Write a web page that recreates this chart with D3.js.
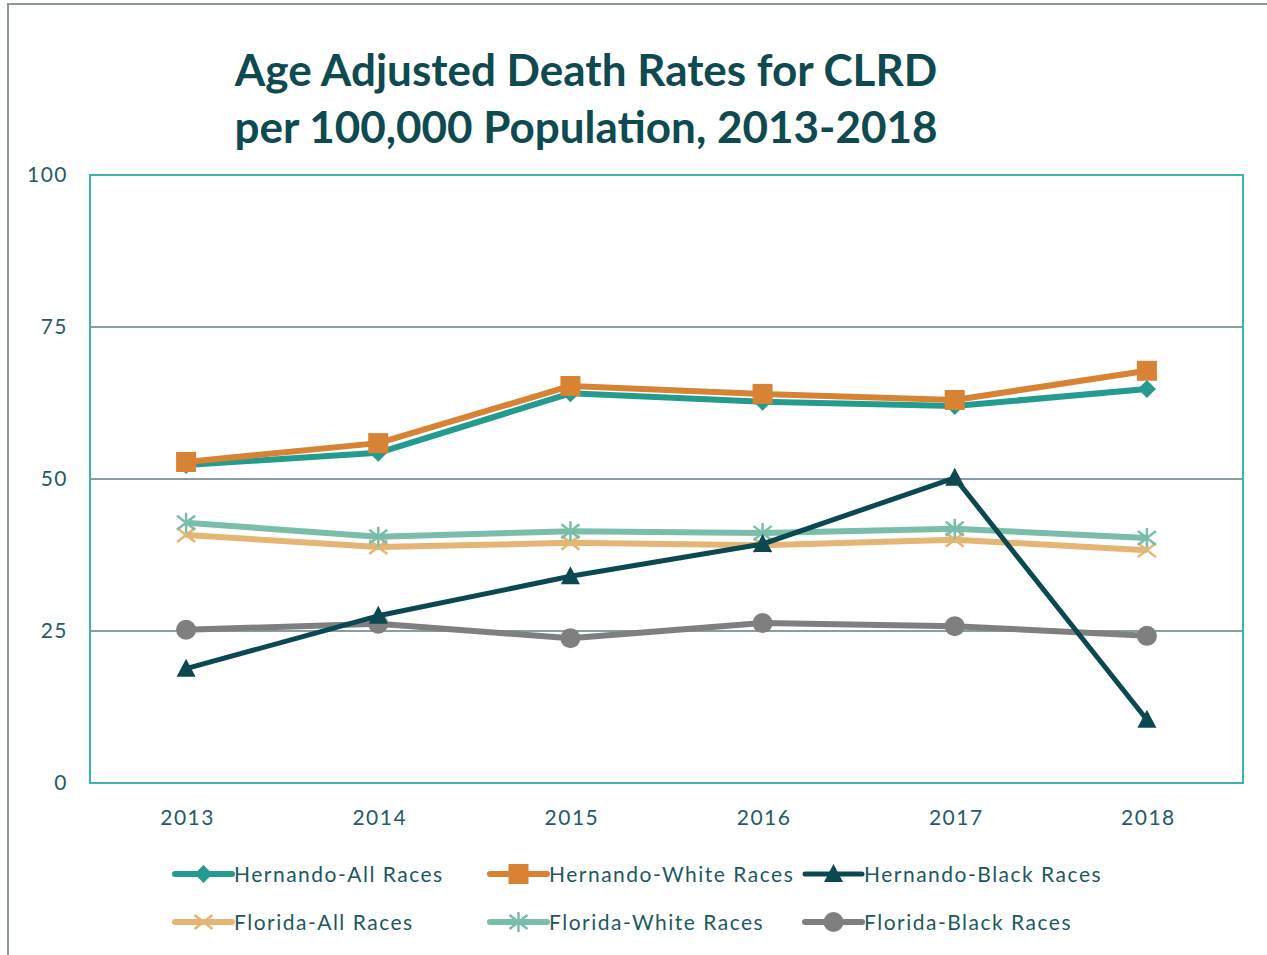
<!DOCTYPE html>
<html>
<head>
<meta charset="utf-8">
<script src="https://cdn.jsdelivr.net/npm/d3@7"></script>
<style>
  body { margin: 0; background: #fff; }
  svg text { font-family: Lato, "Open Sans", sans-serif; }
</style>
</head>
<body>
<div id="chart"></div>
<script>
// data
const years = ['2013', '2014', '2015', '2016', '2017', '2018'];
const hernandoAll = [52.3, 54.3, 64.1, 62.7, 62.0, 64.8];
const hernandoWhite = [52.8, 55.9, 65.3, 64.0, 63.0, 67.8];
const hernandoBlack = [18.8, 27.5, 34.0, 39.3, 50.2, 10.4];
const floridaAll = [40.8, 38.8, 39.5, 39.1, 40.0, 38.3];
const floridaWhite = [42.8, 40.5, 41.4, 41.1, 41.8, 40.3];
const floridaBlack = [25.2, 26.2, 23.8, 26.3, 25.8, 24.2];
const yTicks = [0, 25, 50, 75, 100];

const series = [
    { name: 'Hernando-All Races', values: hernandoAll, color: '#239c8f', marker: 'diamond', w: 6 },
    { name: 'Hernando-White Races', values: hernandoWhite, color: '#d88234', marker: 'square', w: 6 },
    { name: 'Hernando-Black Races', values: hernandoBlack, color: '#0b4850', marker: 'triangle', w: 5 },
    { name: 'Florida-All Races', values: floridaAll, color: '#e5b574', marker: 'x', w: 6 },
    { name: 'Florida-White Races', values: floridaWhite, color: '#79bdaa', marker: 'star', w: 6 },
    { name: 'Florida-Black Races', values: floridaBlack, color: '#7f7f7f', marker: 'circle', w: 6 }
];

const width = 1267, height = 955;
const plot = { left: 90, top: 175, right: 1243, bottom: 783 };

let svg = d3.select('#chart')
    .append('svg')
    .attr('width', width)
    .attr('height', height);

// outer frame
svg.append('rect')
    .attr('x', 8).attr('y', 4)
    .attr('width', 1280).attr('height', 980)
    .attr('fill', 'none')
    .attr('stroke', '#8c979b')
    .attr('stroke-width', 2);

// title
svg.append('text')
    .attr('x', 586).attr('y', 86)
    .attr('text-anchor', 'middle')
    .attr('font-size', 44).attr('font-weight', 'bold')
    .attr('fill', '#0e4a50')
    .text('Age Adjusted Death Rates for CLRD');
svg.append('text')
    .attr('x', 586).attr('y', 143)
    .attr('text-anchor', 'middle')
    .attr('font-size', 44).attr('font-weight', 'bold')
    .attr('fill', '#0e4a50')
    .text('per 100,000 Population, 2013-2018');

let x = d3.scalePoint()
    .domain(years)
    .range([plot.left, plot.right])
    .padding(0.5);

let y = d3.scaleLinear()
    .domain([0, 100])
    .range([plot.bottom, plot.top]);

// gridlines
svg.append('g')
    .selectAll('line')
    .data(yTicks.filter(function(t) { return t > 0 && t < 100; }))
    .enter()
    .append('line')
    .attr('x1', plot.left).attr('x2', plot.right)
    .attr('y1', function(d) { return y(d); })
    .attr('y2', function(d) { return y(d); })
    .attr('stroke', '#8a9da2')
    .attr('stroke-width', 2);

// plot border
svg.append('rect')
    .attr('x', plot.left).attr('y', plot.top)
    .attr('width', plot.right - plot.left)
    .attr('height', plot.bottom - plot.top)
    .attr('fill', 'none')
    .attr('stroke', '#3bb5a7')
    .attr('stroke-width', 2);

// y axis labels
let yAxis = svg.append('g')
    .attr('transform', 'translate(' + (plot.left - 22) + ',0)')
    .call(d3.axisLeft(y).tickValues(yTicks).tickSize(0).tickPadding(0));
yAxis.select('.domain').remove();
yAxis.selectAll('text')
    .attr('font-size', 21)
    .attr('letter-spacing', 1.5)
    .attr('fill', '#245c63')
    .attr('font-family', 'Lato, sans-serif');

// x axis labels
let xAxis = svg.append('g')
    .attr('transform', 'translate(1,' + (plot.bottom + 27) + ')')
    .call(d3.axisBottom(x).tickSize(0).tickPadding(0));
xAxis.select('.domain').remove();
xAxis.selectAll('text')
    .attr('font-size', 21)
    .attr('letter-spacing', 1.5)
    .attr('fill', '#245c63')
    .attr('font-family', 'Lato, sans-serif');

function drawMarker(g, type, color) {
    if (type === 'diamond') {
        g.append('path').attr('d', 'M0,-9L9,0L0,9L-9,0Z').attr('fill', color);
    } else if (type === 'square') {
        g.append('rect').attr('x', -10).attr('y', -10).attr('width', 20).attr('height', 20).attr('fill', color);
    } else if (type === 'triangle') {
        g.append('path').attr('d', 'M0,-10L9.5,8L-9.5,8Z').attr('fill', color);
    } else if (type === 'circle') {
        g.append('circle').attr('r', 10).attr('fill', color);
    } else if (type === 'x') {
        g.append('path').attr('d', 'M-9,-7L9,7M-9,7L9,-7')
            .attr('stroke', color).attr('stroke-width', 2.5).attr('fill', 'none');
    } else if (type === 'star') {
        g.append('path').attr('d', 'M-9,-7L9,7M-9,7L9,-7M0,-10L0,10')
            .attr('stroke', color).attr('stroke-width', 2.5).attr('fill', 'none');
    }
}

let line = d3.line()
    .x(function(d, i) { return x(years[i]); })
    .y(function(d) { return y(d); });

// draw order: Florida first, then Hernando on top
let order = [3, 4, 5, 0, 1, 2];
order.forEach(function(idx) {
    let s = series[idx];
    let g = svg.append('g').attr('class', 'series');
    g.append('path')
        .attr('d', line(s.values))
        .attr('fill', 'none')
        .attr('stroke', s.color)
        .attr('stroke-width', s.w)
        .attr('stroke-linejoin', 'round');
    s.values.forEach(function(v, i) {
        let m = g.append('g').attr('transform', 'translate(' + x(years[i]) + ',' + y(v) + ')');
        drawMarker(m, s.marker, s.color);
    });
});

// legend
let legendCols = [175, 490, 805];
let legendRows = [874, 922];
series.forEach(function(s, i) {
    let lx = legendCols[i % 3];
    let ly = legendRows[Math.floor(i / 3)];
    let g = svg.append('g').attr('transform', 'translate(' + lx + ',' + ly + ')');
    g.append('line')
        .attr('x1', 0).attr('x2', 57)
        .attr('y1', 0).attr('y2', 0)
        .attr('stroke', s.color)
        .attr('stroke-width', s.w)
        .attr('stroke-linecap', 'round');
    let m = g.append('g').attr('transform', 'translate(28.5,0)');
    drawMarker(m, s.marker, s.color);
    g.append('text')
        .attr('x', 59).attr('y', 8)
        .attr('font-size', 21)
        .attr('letter-spacing', 1.5)
        .attr('fill', '#1d5860')
        .text(s.name);
});
</script>
</body>
</html>
